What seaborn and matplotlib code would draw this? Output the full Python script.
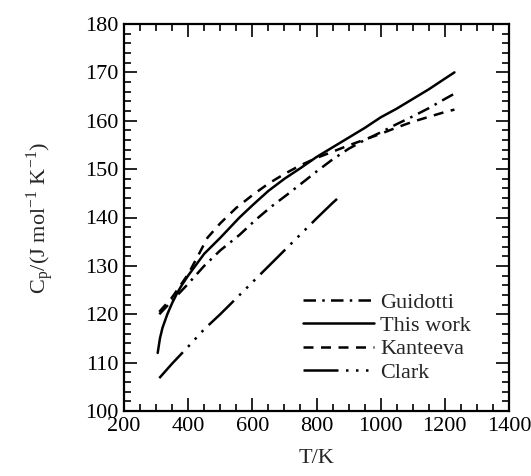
import numpy as np
import pandas as pd
import matplotlib
matplotlib.use("Agg")
import matplotlib.pyplot as plt
import seaborn as sns
from matplotlib.ticker import MultipleLocator

# ---- data ----
T_guidotti = [310, 350, 400, 450, 500, 560, 610, 660, 710, 760, 800, 850, 900, 950, 1000, 1050, 1100, 1150, 1200, 1230]
cp_guidotti = [120.0, 122.8, 126.3, 130.0, 133.2, 136.4, 139.5, 142.3, 144.8, 147.4, 149.5, 152.0, 154.2, 156.0, 157.6, 159.3, 160.9, 162.6, 164.5, 165.6]

T_thiswork = [305, 312, 320, 335, 350, 365, 380, 400, 450, 500, 560, 600, 650, 700, 750, 800, 850, 900, 950, 1000, 1050, 1100, 1150, 1200, 1230]
cp_thiswork = [112.0, 115.0, 117.2, 120.0, 122.3, 124.3, 126.0, 128.0, 132.5, 135.8, 140.0, 142.5, 145.5, 148.0, 150.2, 152.5, 154.5, 156.5, 158.5, 160.7, 162.5, 164.5, 166.5, 168.7, 170.0]

T_kanteeva = [310, 350, 400, 430, 460, 500, 550, 600, 650, 700, 750, 800, 850, 900, 950, 1000, 1050, 1100, 1150, 1200, 1230]
cp_kanteeva = [120.5, 123.5, 128.3, 132.0, 135.8, 138.8, 142.0, 144.6, 147.0, 149.0, 150.8, 152.3, 153.6, 154.9, 156.1, 157.3, 158.6, 159.8, 160.8, 161.8, 162.3]

T_clark = [310, 350, 400, 450, 500, 550, 600, 650, 700, 750, 800, 850, 880]
cp_clark = [106.8, 109.8, 113.3, 116.9, 120.0, 123.3, 126.6, 129.9, 133.2, 136.5, 139.8, 143.0, 144.8]

series_names = ["Guidotti", "This work", "Kanteeva", "Clark"]
x_ticks = [200, 400, 600, 800, 1000, 1200, 1400]
y_ticks = [100, 110, 120, 130, 140, 150, 160, 170, 180]

sns.set_style("ticks")
plt.rcParams["font.family"] = ["Liberation Serif", "DejaVu Serif"]
plt.rcParams["mathtext.fontset"] = "stix"

fig = plt.figure(figsize=(5.31, 4.76), dpi=100)
ax = fig.add_axes([124/531, 1-411/476, 385/531, 387/476])

styles = {
    "Guidotti": (0, (5, 2.5, 1, 2.5)),
    "This work": "-",
    "Kanteeva": (0, (4, 3)),
    "Clark": (0, (14, 3, 1, 3, 1, 3, 1, 3)),
}
data = {
    "Guidotti": (T_guidotti, cp_guidotti),
    "This work": (T_thiswork, cp_thiswork),
    "Kanteeva": (T_kanteeva, cp_kanteeva),
    "Clark": (T_clark, cp_clark),
}
for name in series_names:
    xs, ys = data[name]
    df = pd.DataFrame({"T": xs, "Cp": ys})
    sns.lineplot(data=df, x="T", y="Cp", ax=ax, color="black", lw=1.8,
                 linestyle=styles[name], label=name, errorbar=None)

ax.set_xlim(200, 1400)
ax.set_ylim(100, 180)
ax.set_xticks(x_ticks)
ax.set_yticks(y_ticks)
ax.xaxis.set_minor_locator(MultipleLocator(50))
ax.yaxis.set_minor_locator(MultipleLocator(2))
ax.tick_params(which="both", direction="in", top=True, right=True, width=1.2, colors="black")
ax.tick_params(which="major", length=9.5, labelsize=16, pad=4)
ax.tick_params(which="minor", length=5)
for s in ax.spines.values():
    s.set_linewidth(1.6)
    s.set_color("black")

ax.set_xlabel("T/K", fontsize=16, labelpad=10)
ax.set_ylabel(r"C$_\mathregular{p}$/(J mol$^\mathregular{-1}$ K$^\mathregular{-1}$)", fontsize=16, labelpad=21)

leg = ax.legend(loc="center", bbox_to_anchor=(0.683, 0.19), frameon=False, fontsize=16,
                handlelength=3.2, handletextpad=0.3, labelspacing=0.13, borderpad=0, borderaxespad=0)

fig.savefig("out.png", dpi=100)
